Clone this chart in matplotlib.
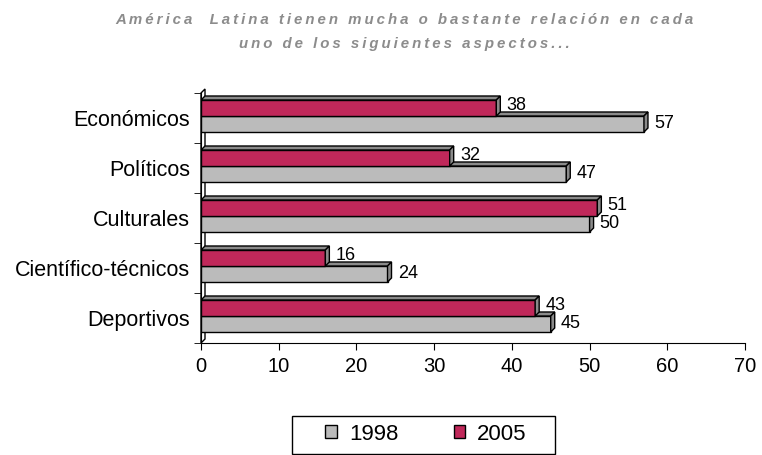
import matplotlib.pyplot as plt
from matplotlib.patches import Polygon, Patch, Rectangle

plt.rcParams['font.family'] = ['Liberation Sans', 'DejaVu Sans']

categorias = ["Económicos", "Políticos", "Culturales", "Científico-técnicos", "Deportivos"]
v1998 = [57, 47, 50, 24, 45]
v2005 = [38, 32, 51, 16, 43]
titulo = ["América  Latina tienen mucha o bastante relación en cada",
          "uno de los siguientes aspectos..."]

GRIS = "#bbbbbb"
ROJO = "#c0285a"
CARA = "#8a8a8a"

fig = plt.figure(figsize=(7.62, 4.55), dpi=100)
ax = fig.add_axes([201 / 762, 1 - 343 / 455, 544 / 762, 250 / 455])
ax.set_xlim(0, 70)
ax.set_ylim(4.5, -0.5)

# depth of the fake 3d effect, in data units (about 4 px each way)
dx = 4 * 70 / 544
dy = 4 * 5 / 250


def barra(arriba, abajo, v, color):
    # arriba < abajo because the y axis is inverted
    ax.add_patch(Polygon([(0, arriba), (v, arriba), (v, abajo), (0, abajo)], closed=True,
                         fc=color, ec="black", lw=1, zorder=3))
    # top face
    ax.add_patch(Polygon([(0, arriba), (v, arriba), (v + dx, arriba - dy), (dx, arriba - dy)],
                         closed=True, fc=CARA, ec="black", lw=1, zorder=3))
    # right face
    ax.add_patch(Polygon([(v, arriba), (v + dx, arriba - dy), (v + dx, abajo - dy), (v, abajo)],
                         closed=True, fc=CARA, ec="black", lw=1, zorder=3))


# wall at x = 0
ax.add_patch(Polygon([(0, 4.5), (dx, 4.5 - dy), (dx, -0.5 - dy), (0, -0.5)],
                     closed=True, fc="white", ec="black", lw=1, zorder=2, clip_on=False))

for i in range(len(categorias)):
    # gray first (lower), red drawn after so it covers the gray top face
    barra(i - 0.04, i + 0.28, v1998[i], GRIS)
    barra(i - 0.36, i - 0.04, v2005[i], ROJO)
    ax.text(v1998[i] + dx + 0.8, i + 0.1, str(v1998[i]), fontsize=13,
            va="center", ha="left", zorder=4)
    ax.text(v2005[i] + dx + 0.8, i - 0.25, str(v2005[i]), fontsize=13,
            va="center", ha="left", zorder=4)

ax.spines["top"].set_visible(False)
ax.spines["right"].set_visible(False)
ax.spines["left"].set_color("black")
ax.spines["bottom"].set_color("black")

ax.set_xticks(range(0, 71, 10))
ax.tick_params(axis="x", length=5, labelsize=14.5, pad=5, color="black")
ax.set_yticks(range(len(categorias)))
ax.set_yticklabels(categorias)
ax.tick_params(axis="y", which="major", length=0, labelsize=15.5, pad=8)
ax.set_yticks([i - 0.5 for i in range(len(categorias) + 1)], minor=True)
ax.tick_params(axis="y", which="minor", length=5, color="black")

# title with letter spacing
for k, linea in enumerate(titulo):
    fig.text(0.531, 1 - (20 + 24 * k) / 455, "\u2009".join(linea), ha="center", va="center",
             fontsize=10.8, fontstyle="italic", fontweight="bold", color="#8c8c8c")

# legend box drawn by hand, entries without frame
fig.add_artist(Rectangle((292 / 762, 1 - 454 / 455), 263 / 762, 38 / 455,
                         transform=fig.transFigure, fc="white", ec="black", lw=1))
handles = [Patch(fc=GRIS, ec="black", lw=1), Patch(fc=ROJO, ec="black", lw=1)]
leg = fig.legend(handles, ["1998", "2005"], loc="center",
                 bbox_to_anchor=(426 / 762, 1 - 434 / 455), ncol=2, fontsize=16,
                 frameon=False, handlelength=0.5, handleheight=0.5, handletextpad=0.55,
                 columnspacing=2.5, borderpad=0, borderaxespad=0)

fig.savefig("out.png", dpi=100)
